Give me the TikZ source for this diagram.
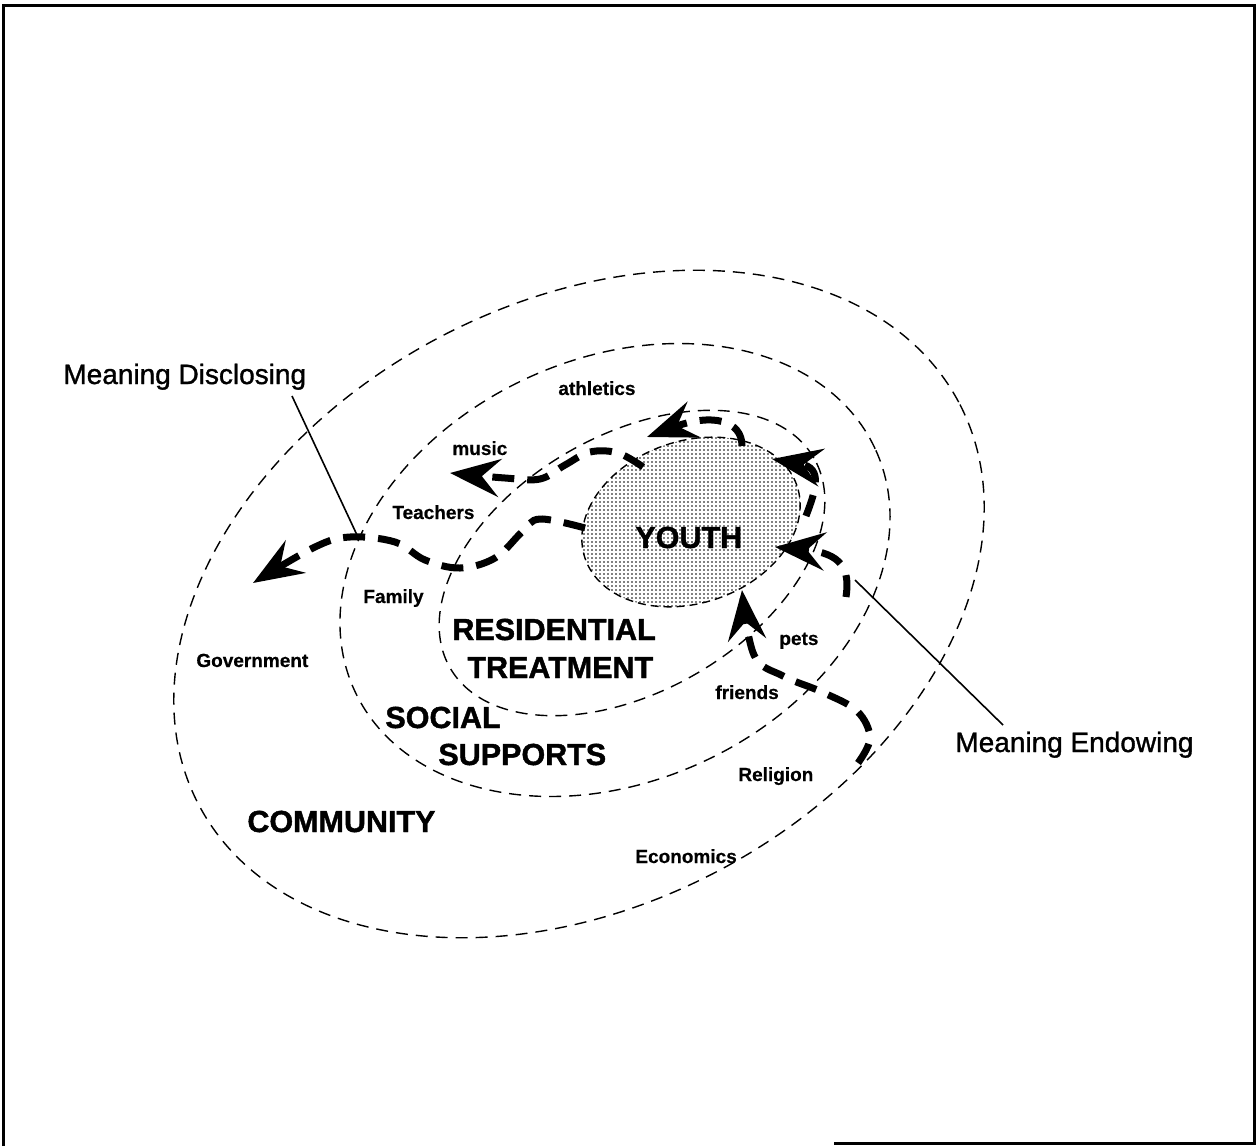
\documentclass[tikz,border=0pt]{standalone}
\usepackage{fontspec}
\setmainfont{Liberation Sans}
\newfontfamily\calloutfont{Liberation Sans}[RawFeature={embolden=1.2}]
\newfontfamily\labelfont{Liberation Sans}[BoldFeatures={FakeBold=0.5}]
\newfontfamily\titlefont{Liberation Sans}[BoldFeatures={FakeBold=1.4}]
\usetikzlibrary{arrows.meta,shapes.geometric,patterns.meta}

\begin{document}
\begin{tikzpicture}[x=0.5pt,y=-0.5pt,
  ring/.style={draw, ellipse, inner sep=0pt, outer sep=0pt, line width=0.7pt,
               dash pattern=on 6pt off 4pt},
  lbl/.style={font=\labelfont\fontsize{9.5}{11}\selectfont\bfseries, anchor=base west, inner sep=0pt},
  big/.style={font=\titlefont\fontsize{15.25}{18}\selectfont\bfseries, anchor=base west, inner sep=0pt},
  callout/.style={font=\calloutfont\fontsize{14}{17}\selectfont, anchor=base west, inner sep=0pt},
  flow/.style={line width=3.5pt, dash pattern=on 11pt off 6.5pt,
               -{Stealth[length=25pt,width=19pt,inset=9pt]}},
  leader/.style={line width=0.8pt}
]
\useasboundingbox (0,0) rectangle (1258,1146);

% outer frame
\draw[line width=1.5pt] (3,1146) -- (3,5) -- (1254,5) -- (1254,1143) -- (834,1143);

% nested rings
\node[ring, minimum width=430pt, minimum height=301pt, rotate=28] (community) at (579,604) {};
\node[ring, minimum width=287pt, minimum height=211pt, rotate=25] (social) at (615,570) {};
\node[ring, minimum width=210pt, minimum height=128pt, rotate=30] (residential) at (632,563) {};
\node[ring, dash pattern=on 4pt off 2.5pt, pattern={Dots[distance=2pt,radius=0.4pt]},
      minimum width=112pt, minimum height=81pt, rotate=19] (youth) at (691,522) {};

% ring titles
\node[big] (tyouth) at (635,548) {YOUTH};
\node[big] (tres1) at (452,640) {RESIDENTIAL};
\node[big] (tres2) at (467,678) {TREATMENT};
\node[big] (tsoc1) at (385,728) {SOCIAL};
\node[big] (tsoc2) at (438,765) {SUPPORTS};
\node[big] (tcom) at (247,832) {COMMUNITY};

% small labels
\node[lbl] (athletics) at (558,395) {athletics};
\node[lbl] (music) at (452,455) {music};
\node[lbl] (teachers) at (392,519) {Teachers};
\node[lbl] (family) at (363,603) {Family};
\node[lbl] (government) at (196,667) {Government};
\node[lbl] (pets) at (779,645) {pets};
\node[lbl] (friends) at (715,699) {friends};
\node[lbl] (religion) at (738,781) {Religion};
\node[lbl] (economics) at (635,863) {Economics};

% callouts
\node[callout] (mdis) at (63,384) {Meaning Disclosing};
\node[callout] (mend) at (955,752) {Meaning Endowing};

% disclosing path: from the youth out through all rings
\coordinate (d0) at (585,528);
\coordinate (d9) at (253,583);
\draw[flow] plot[smooth, tension=0.6] coordinates
  {(d0) (540,519) (522,532) (495,558) (460,568) (425,560) (395,542) (350,537) (315,547) (d9)};

% path towards music
\coordinate (m0) at (643,467);
\coordinate (m6) at (450,473);
\draw[flow] plot[smooth, tension=0.6] coordinates
  {(m0) (618,453) (590,452) (565,465) (540,479) (505,478) (m6)};

% path towards athletics
\coordinate (a0) at (742,446);
\coordinate (a4) at (647,437);
\draw[flow] (a0) .. controls (742,420) and (712,413) .. (a4);

% endowing paths: back into the youth
\coordinate (r0) at (806,516);
\coordinate (r3) at (772,459);
\draw[flow] (r0) .. controls (815,492) and (824,468) .. (r3);

\coordinate (s0) at (846,597);
\coordinate (s3) at (775,547);
\draw[flow] (s0) .. controls (850,570) and (843,553) .. (s3);

\coordinate (f0) at (858,763);
\coordinate (f7) at (742,590);
\draw[flow] plot[smooth, tension=0.6] coordinates
  {(f0) (870,738) (857,711) (822,692) (783,676) (754,655) (f7)};

% leader lines of the callouts
\coordinate (ldis1) at (292,396);
\coordinate (ldis2) at (357,535);
\draw[leader] (ldis1) -- (ldis2);
\coordinate (lend1) at (855,580);
\coordinate (lend2) at (1003,725);
\draw[leader] (lend1) -- (lend2);
\end{tikzpicture}
\end{document}
